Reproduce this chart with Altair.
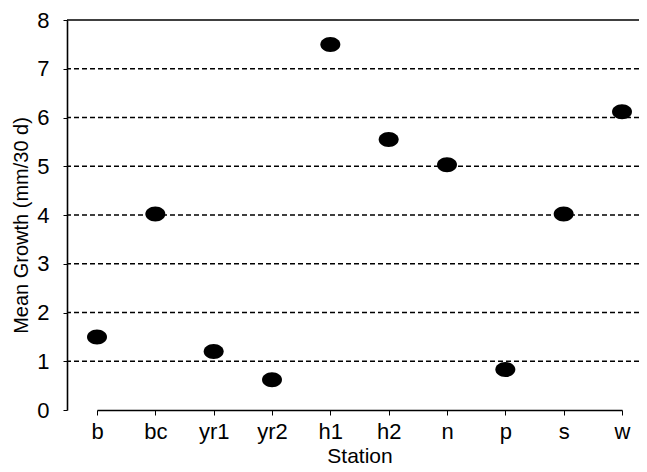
import altair as alt
import pandas as pd

stations = ["b", "bc", "yr1", "yr2", "h1", "h2", "n", "p", "s", "w"]
growth = [1.5, 4.02, 1.2, 0.62, 7.5, 5.55, 5.03, 0.83, 4.02, 6.12]
grid_vals = [1, 2, 3, 4, 5, 6, 7]
top_val = [8]
y_ticks = [i * 0.5 for i in range(17)]

df = pd.DataFrame({"Station": stations, "Growth": growth})
grid_df = pd.DataFrame({"g": grid_vals})
top_df = pd.DataFrame({"g": top_val})

FONT = "Liberation Sans"
ellipse = "M -1 0 A 1 0.75 0 1 0 1 0 A 1 0.75 0 1 0 -1 0 Z"

yscale = alt.Scale(domain=[0, 8], nice=False, zero=True)
yaxis = alt.Axis(
    title="Mean Growth (mm/30 d)",
    values=y_ticks,
    format="d",
    labelExpr="datum.value % 1 == 0 ? datum.label : ''",
    labelFontSize=22,
    titleFontSize=20,
    labelFont=FONT,
    titleFont=FONT,
    labelColor="black",
    titleColor="black",
    titleFontWeight="normal",
    tickColor="black",
    domainColor="black",
    domainWidth=1.6,
    tickSize=4,
    labelPadding=14,
    titleX=-36,
    titleY=205,
    titleBaseline="bottom",
    titleAngle=-90,
    grid=False,
)

grid = alt.Chart(grid_df).mark_rule(
    color="black", strokeWidth=1.3, strokeDash=[5, 3]
).encode(y=alt.Y("g:Q", scale=yscale, axis=yaxis))

top = alt.Chart(top_df).mark_rule(color="black", strokeWidth=1.6).encode(
    y=alt.Y("g:Q", scale=yscale, axis=yaxis)
)

points = alt.Chart(df).mark_point(
    shape=ellipse, filled=True, color="black", opacity=1, size=400
).encode(
    x=alt.X(
        "Station:N",
        sort=stations,
        scale=alt.Scale(type="point", range=[30, 555], padding=0),
        axis=alt.Axis(
            title="Station",
            labelAngle=0,
            labelFontSize=22,
            titleFontSize=21,
            labelFont=FONT,
            titleFont=FONT,
            labelColor="black",
            titleColor="black",
            titleFontWeight="normal",
            tickColor="black",
            domainColor="black",
            domainWidth=1.6,
            tickSize=5,
            labelPadding=6,
            titlePadding=3,
            grid=False,
        ),
    ),
    y=alt.Y("Growth:Q", scale=yscale, axis=yaxis),
)

chart = (
    alt.layer(grid, top, points)
    .properties(
        width=572,
        height=390,
        autosize=alt.AutoSizeParams(type="none"),
        padding={"left": 59, "top": 12, "right": 0, "bottom": 62},
        background="white",
    )
    .configure_view(stroke=None)
)

chart.save("out.html", embed_options={"renderer": "svg", "actions": False})
